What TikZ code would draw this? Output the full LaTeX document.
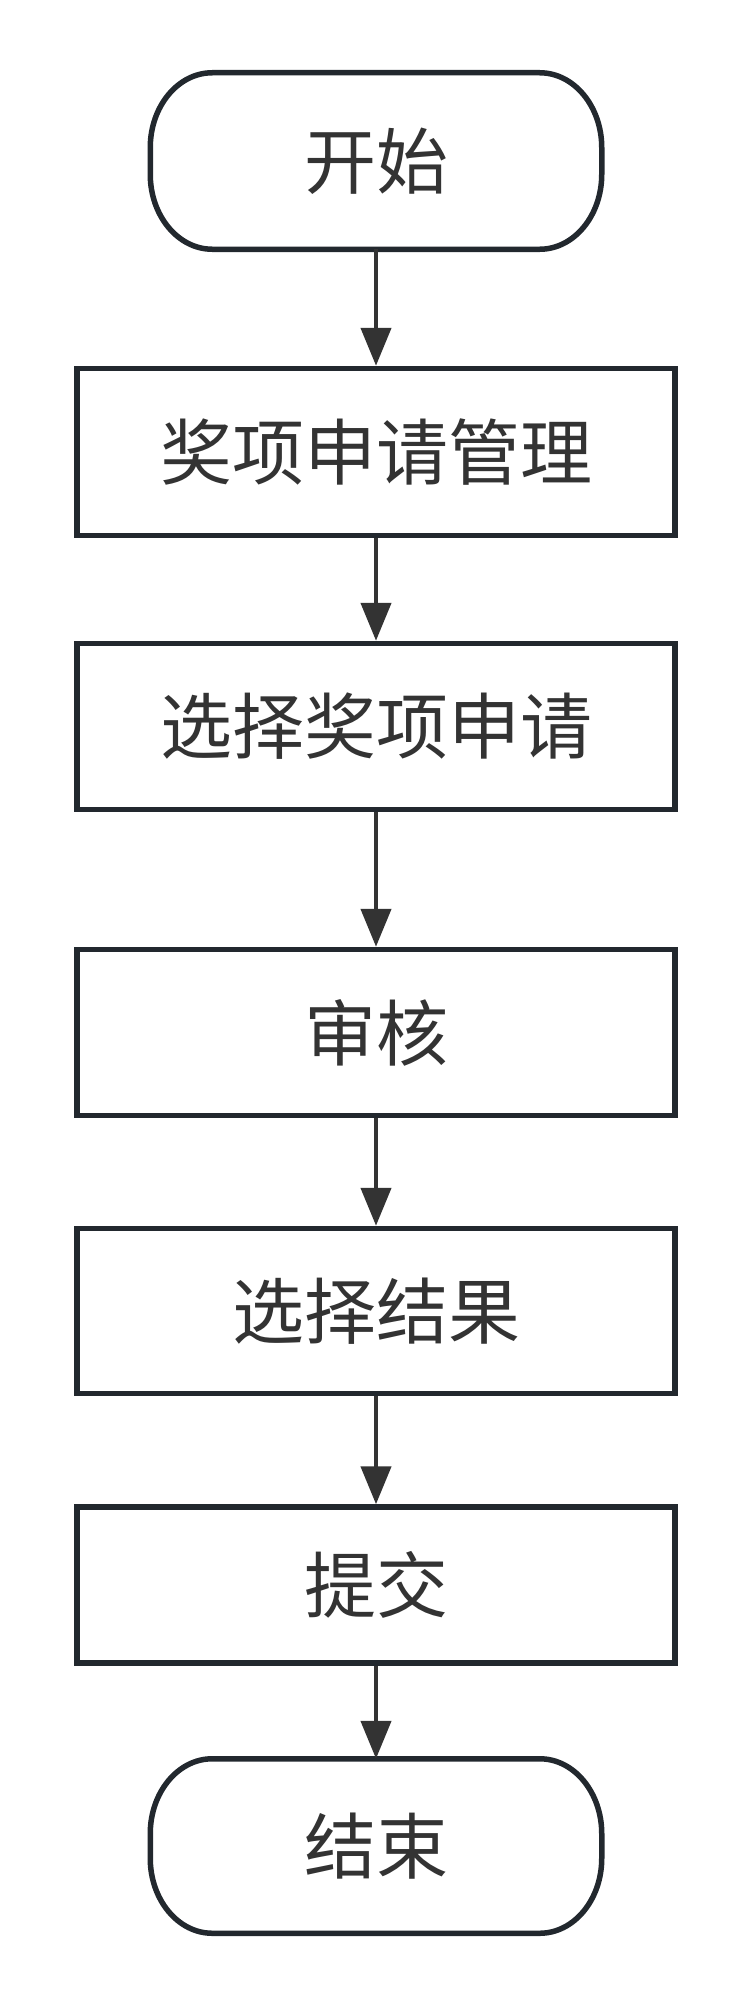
\documentclass[tikz,border=0pt]{standalone}
\usepackage{fontspec}
\newfontfamily\cjk{Noto Sans CJK SC}
\usetikzlibrary{arrows.meta}
\definecolor{edgecol}{HTML}{22282E}
\definecolor{txtcol}{HTML}{333333}
\tikzset{
  procbox/.style={draw=edgecol, line width=5.5pt, fill=white, minimum width=598pt, inner sep=0pt,
    font=\cjk\fontsize{72}{86}\selectfont, text=txtcol},
  termbox/.style={minimum width=446pt, inner sep=0pt, outer sep=2.75pt,
    font=\cjk\fontsize{72}{86}\selectfont, text=txtcol},
  termline/.style={draw=edgecol, line width=5.5pt, line join=round},
  flowarrow/.style={draw=txtcol, line width=4.5pt, -{Triangle[length=38pt, width=30pt]}}
}
\newcommand\termshape[1]{%
  \draw[termline] ([xshift=62pt]#1.north west) -- ([xshift=-62pt]#1.north east)
    arc[start angle=90,end angle=0,x radius=62pt,y radius=75pt]
    -- ([yshift=75pt]#1.south east)
    arc[start angle=0,end angle=-90,x radius=62pt,y radius=75pt]
    -- ([xshift=62pt]#1.south west)
    arc[start angle=270,end angle=180,x radius=62pt,y radius=75pt]
    -- ([yshift=-75pt]#1.north west)
    arc[start angle=180,end angle=90,x radius=62pt,y radius=75pt] -- cycle;}
\begin{document}
\begin{tikzpicture}[x=1pt,y=-1pt]
\useasboundingbox (0,0) rectangle (752,2010);
\node[termbox, minimum height=171pt] (start) at (376,161) {开始};
\node[procbox, minimum height=167pt] (b1) at (376,452) {奖项申请管理};
\node[procbox, minimum height=166pt] (b2) at (376,726.5) {选择奖项申请};
\node[procbox, minimum height=166pt] (b3) at (376,1032.5) {审核};
\node[procbox, minimum height=165pt] (b4) at (376,1311) {选择结果};
\node[procbox, minimum height=156pt] (b5) at (376,1585) {提交};
\node[termbox, minimum height=169pt] (end) at (376,1846) {结束};
\termshape{start}
\termshape{end}
\draw[flowarrow] (start.south) -- (b1.north);
\draw[flowarrow] (b1.south) -- (b2.north);
\draw[flowarrow] (b2.south) -- (b3.north);
\draw[flowarrow] (b3.south) -- (b4.north);
\draw[flowarrow] (b4.south) -- (b5.north);
\draw[flowarrow] (b5.south) -- (end.north);
\end{tikzpicture}
\end{document}
